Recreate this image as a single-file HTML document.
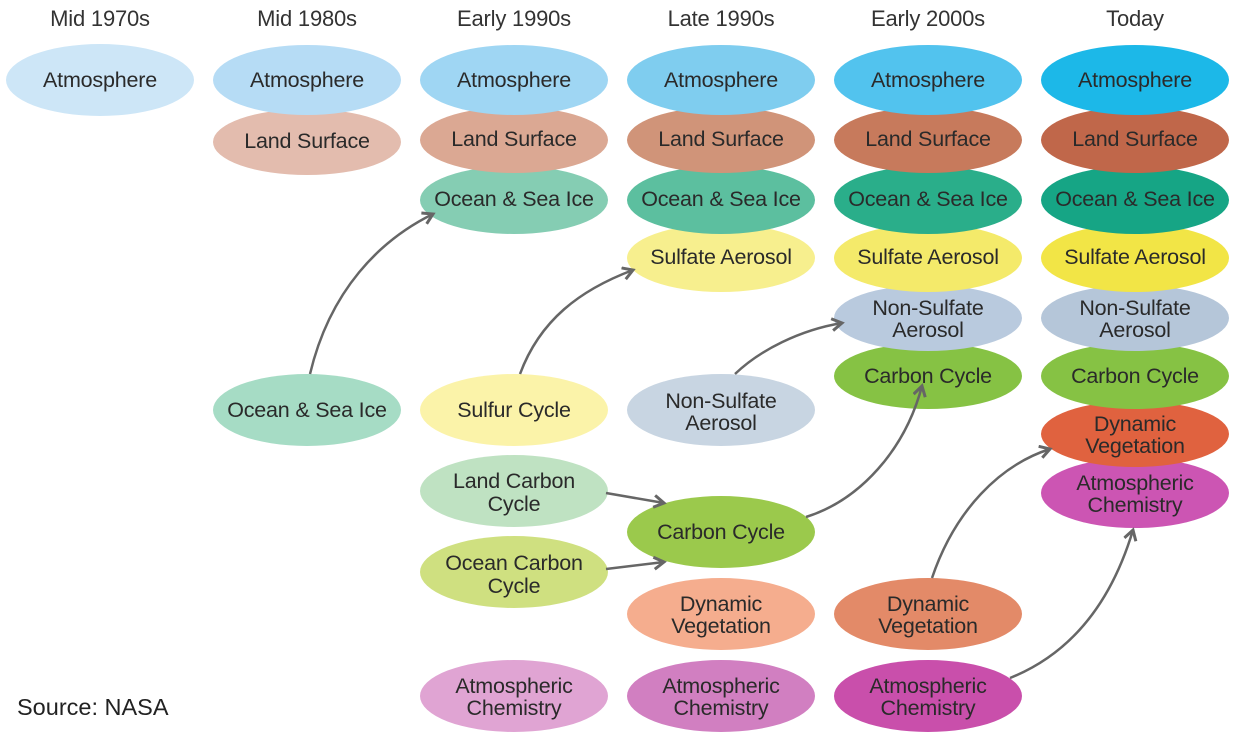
<!DOCTYPE html>
<html><head><meta charset="utf-8"><style>
html,body{margin:0;padding:0;background:#fff}
svg{display:block}
text{font-family:"Liberation Sans",Arial,sans-serif;font-size:21.5px;fill:#2a2a2a;text-anchor:middle;letter-spacing:-0.2px}
.h{font-size:22px;fill:#333}
</style></head><body>
<svg width="1242" height="738" viewBox="0 0 1242 738" xmlns="http://www.w3.org/2000/svg">
<defs>
<marker id="a" markerWidth="16" markerHeight="16" refX="12" refY="7" orient="auto" markerUnits="userSpaceOnUse">
<path d="M2,1 L12,7 L2,13" fill="none" stroke="#666" stroke-width="3"/>
</marker>
</defs>
<text x="100" y="26" class="h">Mid 1970s</text>
<text x="307" y="26" class="h">Mid 1980s</text>
<text x="514" y="26" class="h">Early 1990s</text>
<text x="721" y="26" class="h">Late 1990s</text>
<text x="928" y="26" class="h">Early 2000s</text>
<text x="1135" y="26" class="h">Today</text>
<!-- col0 -->
<ellipse cx="100" cy="80" rx="94" ry="36" fill="#cde6f7"/><text x="100" y="87">Atmosphere</text>
<!-- col1 -->
<ellipse cx="307" cy="142" rx="94" ry="33" fill="#e3bcae"/><text x="307" y="148">Land Surface</text>
<ellipse cx="307" cy="80" rx="94" ry="35" fill="#b6dcf5"/><text x="307" y="87">Atmosphere</text>
<ellipse cx="307" cy="410" rx="94" ry="36" fill="#a6dcc5"/><text x="307" y="417">Ocean &amp; Sea Ice</text>
<!-- col2 -->
<ellipse cx="514" cy="200" rx="94" ry="34" fill="#85cdb3"/><text x="514" y="206">Ocean &amp; Sea Ice</text>
<ellipse cx="514" cy="140" rx="94" ry="33" fill="#dba893"/><text x="514" y="146">Land Surface</text>
<ellipse cx="514" cy="80" rx="94" ry="35" fill="#9fd6f3"/><text x="514" y="87">Atmosphere</text>
<ellipse cx="514" cy="410" rx="94" ry="36" fill="#fbf3a9"/><text x="514" y="417">Sulfur Cycle</text>
<ellipse cx="514" cy="491" rx="94" ry="36" fill="#bfe2c2"/><text x="514" y="488">Land Carbon</text><text x="514" y="511">Cycle</text>
<ellipse cx="514" cy="572" rx="94" ry="36" fill="#cfe080"/><text x="514" y="570">Ocean Carbon</text><text x="514" y="593">Cycle</text>
<ellipse cx="514" cy="696" rx="94" ry="36" fill="#e0a4d3"/><text x="514" y="693">Atmospheric</text><text x="514" y="715">Chemistry</text>
<!-- col3 -->
<ellipse cx="721" cy="258" rx="94" ry="34" fill="#f7ef8e"/><text x="721" y="264">Sulfate Aerosol</text>
<ellipse cx="721" cy="200" rx="94" ry="34" fill="#5cbf9f"/><text x="721" y="206">Ocean &amp; Sea Ice</text>
<ellipse cx="721" cy="140" rx="94" ry="33" fill="#d09479"/><text x="721" y="146">Land Surface</text>
<ellipse cx="721" cy="80" rx="94" ry="35" fill="#7fcdef"/><text x="721" y="87">Atmosphere</text>
<ellipse cx="721" cy="410" rx="94" ry="36" fill="#c8d5e2"/><text x="721" y="408">Non-Sulfate</text><text x="721" y="430">Aerosol</text>
<ellipse cx="721" cy="532" rx="94" ry="36" fill="#9bc94c"/><text x="721" y="539">Carbon Cycle</text>
<ellipse cx="721" cy="614" rx="94" ry="36" fill="#f5ad8e"/><text x="721" y="611">Dynamic</text><text x="721" y="633">Vegetation</text>
<ellipse cx="721" cy="696" rx="94" ry="36" fill="#d17fc1"/><text x="721" y="693">Atmospheric</text><text x="721" y="715">Chemistry</text>
<!-- col4 -->
<ellipse cx="928" cy="376" rx="94" ry="33" fill="#86c244"/><text x="928" y="383">Carbon Cycle</text>
<ellipse cx="928" cy="318" rx="94" ry="33" fill="#b9cade"/><text x="928" y="315">Non-Sulfate</text><text x="928" y="337">Aerosol</text>
<ellipse cx="928" cy="258" rx="94" ry="34" fill="#f4ea6a"/><text x="928" y="264">Sulfate Aerosol</text>
<ellipse cx="928" cy="200" rx="94" ry="34" fill="#2aae8a"/><text x="928" y="206">Ocean &amp; Sea Ice</text>
<ellipse cx="928" cy="140" rx="94" ry="33" fill="#c77a5c"/><text x="928" y="146">Land Surface</text>
<ellipse cx="928" cy="80" rx="94" ry="35" fill="#52c3ee"/><text x="928" y="87">Atmosphere</text>
<ellipse cx="928" cy="614" rx="94" ry="36" fill="#e38a68"/><text x="928" y="611">Dynamic</text><text x="928" y="633">Vegetation</text>
<ellipse cx="928" cy="696" rx="94" ry="36" fill="#c94fab"/><text x="928" y="693">Atmospheric</text><text x="928" y="715">Chemistry</text>
<!-- col5 -->
<ellipse cx="1135" cy="493" rx="94" ry="35" fill="#cc55b3"/><text x="1135" y="490">Atmospheric</text><text x="1135" y="512">Chemistry</text>
<ellipse cx="1135" cy="434" rx="94" ry="33" fill="#e0623f"/><text x="1135" y="431">Dynamic</text><text x="1135" y="453">Vegetation</text>
<ellipse cx="1135" cy="376" rx="94" ry="33" fill="#86c244"/><text x="1135" y="383">Carbon Cycle</text>
<ellipse cx="1135" cy="318" rx="94" ry="33" fill="#b5c6d9"/><text x="1135" y="315">Non-Sulfate</text><text x="1135" y="337">Aerosol</text>
<ellipse cx="1135" cy="258" rx="94" ry="34" fill="#f2e546"/><text x="1135" y="264">Sulfate Aerosol</text>
<ellipse cx="1135" cy="200" rx="94" ry="34" fill="#16a585"/><text x="1135" y="206">Ocean &amp; Sea Ice</text>
<ellipse cx="1135" cy="140" rx="94" ry="33" fill="#c0674a"/><text x="1135" y="146">Land Surface</text>
<ellipse cx="1135" cy="80" rx="94" ry="35" fill="#1cb8e8"/><text x="1135" y="87">Atmosphere</text>
<!-- arrows -->
<g fill="none" stroke="#666" stroke-width="2.5" marker-end="url(#a)">
<path d="M310,374 C330,290 380,240 433,214"/>
<path d="M520,374 C540,320 580,290 633,270"/>
<path d="M735,374 C760,350 800,330 842,323"/>
<path d="M606,493 L664,503"/>
<path d="M606,569 L664,562"/>
<path d="M806,517 C860,500 905,450 922,386"/>
<path d="M932,578 C955,510 1000,465 1050,449"/>
<path d="M1010,678 C1080,650 1115,590 1133,530"/>
</g>
<text x="17" y="715" style="text-anchor:start;font-size:23.5px;fill:#222;letter-spacing:0">Source: NASA</text>
</svg>
</body></html>
